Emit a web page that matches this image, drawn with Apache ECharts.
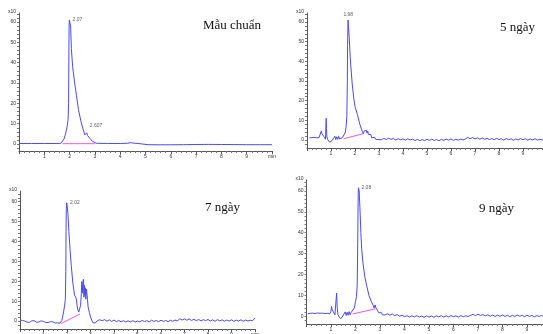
<!DOCTYPE html>
<html>
<head>
<meta charset="utf-8">
<script src="https://cdn.jsdelivr.net/npm/echarts@6/dist/echarts.min.js"></script>
<style>
  html, body { margin: 0; padding: 0; background: #fff; }
  #chart { width: 543px; height: 334px; }
</style>
</head>
<body>
<div id="chart"></div>
<script>
// panel names
const panelNames = ['Mẫu chuẩn', '5 ngày', '7 ngày', '9 ngày'];

// axis ticks
const xLabelVals = [1, 2, 3, 4, 5, 6, 7, 8, 9, 10];
const yLabelVals = [0, 10, 20, 30, 40, 50, 60];
const yTickVals = [-2, 0, 2, 4, 6, 8, 10, 12, 14, 16, 18, 20, 22, 24, 26, 28, 30, 32, 34, 36, 38, 40,
  42, 44, 46, 48, 50, 52, 54, 56, 58, 60, 62, 64];

// traces [time (min), signal (x10)]
const stdTrace = [[0,0.3],[0.5,0.3],[1,0.3],[1.5,0.3],[1.65,0.35],[1.72,0.8],[1.78,2.5],[1.84,5],[1.9,8.5],
  [1.94,12],[1.96,20],[1.97,40],[1.98,58],[1.99,61],[2.01,60.5],[2.02,61],[2.04,58],[2.07,47],[2.12,38],
  [2.2,30],[2.27,24],[2.35,17],[2.45,11],[2.53,7.5],[2.6,4.5],[2.63,3.6],[2.66,5.2],[2.68,5.5],[2.71,4.2],
  [2.74,3.8],[2.8,2.8],[2.9,1.4],[2.96,0.6],[3.05,0.4],[3.5,0.3],[4.0,0.3],[4.3,0.4],[4.4,0.7],[4.5,0.5],
  [4.7,0.3],[4.9,0.0],[5.1,-0.3],[5.5,-0.35],[6.0,-0.35],[6.5,-0.3],[7.0,-0.2],[7.5,-0.15],[8.0,-0.2],
  [8.5,-0.25],[9.0,-0.3],[9.5,-0.3],[10,-0.3]];

const d5Trace = [[0.1,1.0],[0.15,0.5],[0.2,1.2],[0.25,0.7],[0.3,1.3],[0.35,0.8],[0.4,1.1],[0.45,0.6],
  [0.5,1.2],[0.55,0.9],[0.58,1.5],[0.6,4.6],[0.62,3.2],[0.64,4.2],[0.66,3.0],[0.68,3.5],[0.7,1.8],[0.74,1.2],
  [0.77,0.4],[0.79,1.0],[0.8,11],[0.81,6],[0.83,1.5],[0.86,0.2],[0.9,-0.6],[0.95,-1.2],[1.0,-0.9],[1.05,-0.2],
  [1.1,0.6],[1.13,-0.2],[1.16,1.9],[1.2,0.2],[1.24,1.6],[1.28,0.3],[1.32,1.8],[1.36,0.5],[1.4,1.4],[1.44,0.6],
  [1.48,1.2],[1.52,0.8],[1.56,2.2],[1.6,4.0],[1.63,7],[1.66,12],[1.68,28],[1.69,48],[1.71,61],[1.73,60],
  [1.76,52],[1.8,42],[1.88,29],[1.95,21],[2.0,17],[2.1,13],[2.2,8],[2.3,4.5],[2.35,3.2],[2.38,4.5],[2.41,5.3],
  [2.44,3.8],[2.47,5.0],[2.5,3.5],[2.53,4.6],[2.56,2.8],[2.6,3.8],[2.63,1.8],[2.66,2.8],[2.7,1.0],[2.74,2.0],
  [2.78,0.4],[2.82,1.4],[2.86,0.3],[2.9,1.0],[2.95,0.2],[3.0,0.7],[3.1,0.1],[3.2,0.8],[3.3,0.2],[3.4,0.9],
  [3.5,0.3],[3.6,0.7],[3.7,0.0],[3.8,0.6],[3.9,0.1],[4.0,0.5],[4.1,-0.1],[4.2,0.6],[4.3,0.0],[4.4,0.4],
  [4.5,-0.3],[4.6,0.3],[4.7,-0.4],[4.8,0.2],[4.9,-0.3],[5.0,0.3],[5.1,-0.2],[5.2,0.4],[5.3,-0.3],[5.4,0.2],
  [5.5,-0.4],[5.6,0.3],[5.7,-0.2],[5.8,0.4],[5.9,-0.1],[6.0,0.5],[6.1,-0.2],[6.2,0.3],[6.3,-0.1],[6.4,0.4],
  [6.5,0.0],[6.6,0.5],[6.7,1.3],[6.8,0.6],[6.9,1.2],[7.0,0.5],[7.1,1.1],[7.2,0.4],[7.3,1.0],[7.4,0.3],
  [7.5,0.8],[7.6,0.2],[7.7,0.7],[7.8,0.1],[7.9,0.8],[8.0,0.2],[8.1,0.6],[8.2,-0.1],[8.3,0.7],[8.4,0.1],
  [8.5,0.6],[8.6,-0.2],[8.7,0.5],[8.8,0.0],[8.9,0.7],[9.0,0.1],[9.1,0.6],[9.2,-0.1],[9.3,0.5],[9.4,0.0],
  [9.5,0.6],[9.6,-0.1],[9.7,0.4],[9.8,0.0],[9.9,0.5],[10.0,0.1]];

const d7Trace = [[0.0,0.5],[0.05,-0.4],[0.1,0.3],[0.15,-0.6],[0.2,0.0],[0.3,-0.5],[0.35,0.2],[0.4,-0.7],
  [0.5,0.1],[0.55,-0.5],[0.6,0.2],[0.7,-0.6],[0.75,0.0],[0.8,-0.5],[0.9,0.1],[0.95,-0.7],[1.0,-0.2],
  [1.1,-0.8],[1.15,-0.1],[1.2,-0.7],[1.3,-0.3],[1.35,-0.9],[1.4,-0.4],[1.5,-1.0],[1.55,-0.5],[1.6,-0.9],
  [1.65,-0.6],[1.7,-1.1],[1.74,-1.3],[1.78,0.3],[1.82,2.5],[1.86,5],[1.9,8],[1.93,11],[1.95,25],[1.96,45],
  [1.97,56],[1.99,59.5],[2.01,59],[2.04,54],[2.08,45],[2.13,36],[2.18,28],[2.25,19],[2.32,13],[2.39,11.5],
  [2.45,6],[2.5,4.5],[2.55,3.5],[2.58,8],[2.61,14],[2.63,19.8],[2.65,14],[2.67,19],[2.7,21],[2.72,12],
  [2.74,18],[2.76,13],[2.78,16.7],[2.8,11],[2.83,16],[2.85,17],[2.87,11],[2.9,7],[2.95,4.4],[3.0,2],
  [3.05,0.5],[3.1,-0.8],[3.15,-1.5],[3.2,-1.0],[3.25,-0.2],[3.3,0.3],[3.35,-0.3],[3.4,0.6],[3.45,0.9],
  [3.5,0.2],[3.6,0.7],[3.7,-0.1],[3.8,0.6],[3.9,-0.2],[4.0,0.5],[4.1,-0.3],[4.2,0.3],[4.3,-0.4],[4.4,0.2],
  [4.5,-0.5],[4.6,0.1],[4.7,-0.4],[4.8,0.2],[4.9,-0.5],[5.0,0.0],[5.1,-0.4],[5.2,0.3],[5.3,-0.3],[5.4,0.2],
  [5.5,-0.4],[5.6,0.4],[5.7,-0.2],[5.8,0.3],[5.9,-0.3],[6.0,0.4],[6.1,-0.2],[6.2,0.3],[6.3,-0.3],[6.4,0.4],
  [6.5,-0.1],[6.6,0.5],[6.7,0.0],[6.8,1.2],[6.9,0.5],[7.0,1.1],[7.1,0.4],[7.2,1.0],[7.3,0.3],[7.4,0.9],
  [7.5,0.2],[7.6,0.8],[7.7,0.1],[7.8,0.7],[7.9,0.2],[8.0,0.8],[8.1,0.0],[8.2,0.6],[8.3,-0.1],[8.4,0.7],
  [8.5,0.1],[8.6,0.6],[8.7,-0.1],[8.8,0.5],[8.9,0.0],[9.0,0.6],[9.1,-0.2],[9.2,0.5],[9.3,0.0],[9.4,0.6],
  [9.5,-0.1],[9.6,0.5],[9.7,0.0],[9.8,0.4],[9.9,0.2],[9.95,1.0],[10.0,1.6]];

const d9Trace = [[0.05,1.3],[0.1,0.8],[0.15,1.5],[0.2,1.0],[0.25,1.6],[0.3,0.9],[0.35,1.4],[0.4,1.1],
  [0.45,1.7],[0.5,1.0],[0.55,1.5],[0.6,0.9],[0.65,1.6],[0.7,1.1],[0.75,1.4],[0.8,0.9],[0.85,1.5],[0.9,1.1],
  [0.95,1.3],[1.0,2.5],[1.02,4.8],[1.04,3.5],[1.06,4.2],[1.08,2.5],[1.12,2.0],[1.16,0.8],[1.2,1.5],
  [1.23,11.2],[1.25,5],[1.28,1.0],[1.32,0.0],[1.36,-0.6],[1.4,-1.1],[1.44,-0.8],[1.48,0.2],[1.52,1.0],
  [1.55,0.3],[1.58,2.2],[1.62,0.5],[1.66,2.0],[1.7,0.6],[1.74,2.3],[1.78,0.8],[1.82,1.9],[1.86,1.0],
  [1.9,2.2],[1.95,4],[2.0,7],[2.04,9.5],[2.07,15],[2.09,35],[2.11,58],[2.12,61.5],[2.15,60],[2.18,52],
  [2.22,40],[2.25,32.6],[2.3,26],[2.38,19],[2.45,15],[2.55,10],[2.65,7],[2.73,5.2],[2.76,4],[2.8,5.5],
  [2.83,4.2],[2.86,5],[2.89,3],[2.92,3.8],[2.95,1.8],[2.98,2.5],[3.02,1.2],[3.06,1.8],[3.1,0.8],[3.15,1.5],
  [3.2,0.7],[3.3,1.3],[3.4,0.6],[3.5,1.2],[3.6,0.4],[3.7,0.9],[3.8,0.1],[3.9,0.6],[4.0,-0.1],[4.1,0.4],
  [4.2,-0.3],[4.3,0.3],[4.4,-0.2],[4.5,0.4],[4.6,-0.3],[4.7,0.2],[4.8,-0.4],[4.9,0.3],[5.0,-0.3],[5.1,0.2],
  [5.2,-0.4],[5.3,0.3],[5.4,-0.2],[5.5,0.4],[5.6,-0.3],[5.7,0.3],[5.8,-0.2],[5.9,0.4],[6.0,-0.1],[6.1,0.3],
  [6.2,-0.3],[6.3,0.4],[6.4,-0.1],[6.5,0.3],[6.6,0.0],[6.7,0.5],[6.8,1.0],[6.9,0.4],[7.0,1.1],[7.1,0.5],
  [7.2,0.9],[7.3,0.3],[7.4,0.8],[7.5,0.1],[7.6,0.7],[7.7,0.0],[7.8,0.6],[7.9,0.1],[8.0,0.7],[8.1,0.0],
  [8.2,0.6],[8.3,-0.1],[8.4,0.5],[8.5,0.0],[8.6,0.7],[8.7,0.1],[8.8,0.5],[8.9,-0.1],[9.0,0.6],[9.1,0.0],
  [9.2,0.5],[9.3,-0.2],[9.4,0.4],[9.5,0.0],[9.6,0.5],[9.7,-0.1],[9.8,0.4],[9.9,0.0],[10.0,0.3]];

// integration baselines
const stdBase = [[1.72, 0.2], [3.0, 0.2]];
const d5Base = [[1.52, 0.6], [2.35, 3.2]];
const d7Base = [[1.74, -1.3], [2.55, 3.5]];
const d9Base = [[1.88, 1.2], [2.8, 3.6]];

// peak tags [time, signal, text]
const stdTags = [[2.0, 61, '2.07'], [2.68, 5.5, '2.607']];
const d5Tags = [[1.72, 61, '1.98']];
const d7Tags = [[2.0, 59.5, '2.02']];
const d9Tags = [[2.12, 61.5, '2.08']];

const traces = [stdTrace, d5Trace, d7Trace, d9Trace];
const bases = [stdBase, d5Base, d7Base, d9Base];
const tags = [stdTags, d5Tags, d7Tags, d9Tags];

// layout of the four panels (px)
const panels = [
  {left: 19, top: 13, width: 253, height: 138, yMin: -3.4, yMax: 64.4, nameX: 203, nameY: 19},
  {left: 307, top: 13, width: 240, height: 135, yMin: -4.1, yMax: 64.6, nameX: 500, nameY: 21},
  {left: 20, top: 191, width: 235, height: 138, yMin: -4.0, yMax: 65.4, nameX: 205, nameY: 201},
  {left: 306.5, top: 180, width: 245, height: 144, yMin: -3.6, yMax: 65.2, nameX: 479, nameY: 202}
];
const tagOffsets = [[[0, 0], [0, -7]], [[0, 0]], [[0, 0]], [[0, 0]]];
const tagPos = [['right', 'right'], ['top'], ['right'], ['right']];

const axisGray = '#555';
const lineBlue = '#4a4af2';

const grid = [], xAxis = [], yAxis = [], series = [], graphic = [];
panels.forEach((p, i) => {
  grid.push({left: p.left, top: p.top, width: p.width, height: p.height,
    containLabel: false, outerBoundsMode: 'none'});
  xAxis.push({
    type: 'value', gridIndex: i, min: 0, max: 10, interval: 1,
    axisLine: {onZero: false, lineStyle: {color: axisGray, width: 1}},
    axisTick: {length: 3, lineStyle: {color: axisGray}},
    minorTick: {show: true, splitNumber: 5, length: 2, lineStyle: {color: '#777'}},
    splitLine: {show: false},
    axisLabel: {
      customValues: xLabelVals, fontSize: 5, color: '#333', margin: 3,
      fontFamily: 'Liberation Sans',
      formatter: v => (v === 10 ? 'min' : String(v))
    }
  });
  yAxis.push({
    type: 'value', gridIndex: i, min: p.yMin, max: p.yMax,
    name: 'x10', nameLocation: 'end', nameGap: -1,
    nameTextStyle: {fontSize: 5, color: '#333', align: 'right', padding: [0, 3, 0, 0], fontFamily: 'Liberation Sans'},
    axisLine: {show: true, lineStyle: {color: axisGray, width: 1}},
    axisTick: {customValues: yTickVals, length: 2, lineStyle: {color: '#777'}},
    splitLine: {show: false},
    axisLabel: {customValues: yLabelVals, fontSize: 5, color: '#333', margin: 3, fontFamily: 'Liberation Sans'}
  });
  series.push({
    type: 'line', xAxisIndex: i, yAxisIndex: i, data: traces[i],
    showSymbol: false, symbol: 'none', smooth: false, silent: true,
    lineStyle: {color: lineBlue, width: 1}, z: 3
  });
  series.push({
    type: 'line', xAxisIndex: i, yAxisIndex: i, data: bases[i],
    showSymbol: false, symbol: 'none', silent: true,
    lineStyle: {color: '#ff55d0', width: 1}, z: 2
  });
  series.push({
    type: 'scatter', xAxisIndex: i, yAxisIndex: i, symbolSize: 0, silent: true,
    data: tags[i].map((t, k) => ({
      value: [t[0], t[1]],
      label: {show: true, formatter: t[2], position: tagPos[i][k], offset: tagOffsets[i][k],
        distance: 3, fontSize: 5, color: '#333', fontFamily: 'Liberation Sans'}
    }))
  });
  graphic.push({
    type: 'text', left: p.nameX, top: p.nameY,
    style: {text: panelNames[i], font: '13px "Liberation Serif"', fill: '#111'}
  });
});

const myChart = echarts.init(document.getElementById('chart'), null, {renderer: 'canvas'});
myChart.setOption({
  animation: false,
  backgroundColor: '#fff',
  grid, xAxis, yAxis, series, graphic
});
</script>
</body>
</html>
